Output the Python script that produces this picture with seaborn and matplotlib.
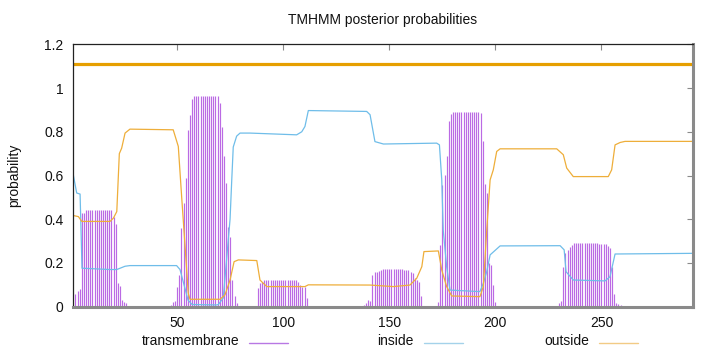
import numpy as np
import pandas as pd
import matplotlib
matplotlib.use("Agg")
import matplotlib.pyplot as plt
import seaborn as sns
from matplotlib.lines import Line2D

# ---------------- data ----------------
title = "TMHMM posterior probabilities"
seq_len = 293
x_ticks = [50, 100, 150, 200, 250]
y_ticks = [0, 0.2, 0.4, 0.6, 0.8, 1.0, 1.2]
y_tick_labels = ["0", "0.2", "0.4", "0.6", "0.8", "1", "1.2"]
legend_labels = ["transmembrane", "inside", "outside"]

# transmembrane posterior probability per residue (1..293), drawn as impulses
tm_prob = [
    0.0, 0.06, 0.073, 0.08, 0.43, 0.43, 0.443, 0.443, 0.443, 0.443,
    0.443, 0.443, 0.443, 0.443, 0.443, 0.443, 0.443, 0.443, 0.443, 0.41,
    0.38, 0.107, 0.095, 0.03, 0.02, 0.015, 0, 0, 0, 0,
    0, 0, 0, 0, 0, 0, 0, 0, 0, 0,
    0, 0, 0, 0, 0, 0, 0.01, 0.02, 0.025, 0.09,
    0.145, 0.36, 0.475, 0.59, 0.81, 0.878, 0.95, 0.962, 0.962, 0.962,
    0.962, 0.962, 0.962, 0.962, 0.962, 0.962, 0.962, 0.962, 0.962, 0.93,
    0.82, 0.69, 0.566, 0.366, 0.32, 0.122, 0.05, 0.017, 0, 0,
    0, 0, 0, 0, 0, 0, 0, 0.084, 0.107, 0.115,
    0.123, 0.123, 0.123, 0.123, 0.123, 0.123, 0.123, 0.123, 0.123, 0.123,
    0.123, 0.123, 0.123, 0.123, 0.123, 0.123, 0.115, 0.099, 0.09, 0.09,
    0.04, 0, 0, 0, 0, 0, 0, 0, 0, 0,
    0, 0, 0, 0, 0, 0, 0, 0, 0, 0.005,
    0.005, 0, 0, 0, 0, 0, 0, 0.008, 0.015, 0.03,
    0.025, 0.145, 0.16, 0.16, 0.163, 0.168, 0.171, 0.171, 0.171, 0.171,
    0.171, 0.171, 0.171, 0.171, 0.171, 0.171, 0.166, 0.166, 0.166, 0.16,
    0.153, 0.13, 0.12, 0.115, 0.05, 0.005, 0, 0, 0, 0,
    0, 0, 0.02, 0.283, 0.557, 0.603, 0.69, 0.847, 0.882, 0.89,
    0.89, 0.89, 0.89, 0.89, 0.89, 0.89, 0.89, 0.89, 0.89, 0.89,
    0.89, 0.89, 0.888, 0.756, 0.562, 0.52, 0.2, 0.19, 0.099, 0.023,
    0, 0, 0, 0, 0, 0, 0, 0, 0, 0,
    0, 0, 0, 0, 0, 0, 0, 0, 0, 0,
    0, 0, 0, 0, 0, 0, 0, 0, 0, 0.017,
    0.027, 0.183, 0.244, 0.26, 0.272, 0.283, 0.29, 0.29, 0.29, 0.29,
    0.29, 0.29, 0.29, 0.29, 0.29, 0.29, 0.29, 0.29, 0.288, 0.288,
    0.288, 0.288, 0.277, 0.27, 0.183, 0.06, 0.015, 0.012, 0.01, 0,
    0, 0, 0, 0, 0, 0, 0, 0, 0, 0,
    0, 0, 0, 0, 0, 0, 0, 0, 0, 0,
    0, 0, 0, 0, 0, 0, 0, 0, 0, 0,
    0, 0, 0,
]
residues = list(range(1, len(tm_prob) + 1))

# inside probability
inside_x = [1.0, 2.6, 4.2, 5.1, 18.3, 21.5, 25.4, 27.7, 49.7, 51.3, 53.2, 55.1,
            57.0, 68.6, 69.4, 71.7, 73.3, 74.9, 75.7, 76.4, 78.0, 79.6, 84.3,
            106.3, 108.7, 110.2, 111.8, 139.3, 140.9, 143.2, 147.2, 172.3,
            173.6, 174.7, 175.4, 177.0, 178.6, 192.7, 194.3, 195.9, 197.5,
            202.2, 230.5, 232.4, 233.3, 236.7, 251.7, 254.0, 256.4, 293.0]
inside_y = [0.603, 0.52, 0.515, 0.176, 0.17, 0.17, 0.185, 0.188, 0.188, 0.17,
            0.10, 0.03, 0.01, 0.008, 0.01, 0.04, 0.22, 0.40, 0.58, 0.73, 0.78,
            0.794, 0.794, 0.786, 0.80, 0.824, 0.897, 0.893, 0.878, 0.755,
            0.744, 0.748, 0.74, 0.58, 0.35, 0.183, 0.076, 0.069, 0.107, 0.16,
            0.237, 0.278, 0.279, 0.26, 0.16, 0.122, 0.118, 0.137, 0.241, 0.244]

# outside probability
outside_x = [1.0, 3.4, 5.0, 18.3, 19.9, 21.5, 22.7, 23.8, 25.4, 27.7, 48.1,
             50.5, 52.1, 53.7, 55.2, 56.0, 70.2, 72.5, 74.9, 76.8, 78.8, 87.5,
             89.0, 92.2, 110.2, 111.8, 140.9, 151.9, 159.7, 162.9, 165.3,
             166.3, 173.1, 174.7, 177.0, 179.4, 192.7, 194.3, 195.9, 197.5,
             199.0, 200.6, 202.2, 228.9, 232.0, 233.6, 236.7, 253.2, 254.8,
             256.4, 258.8, 261.1, 293.0]
outside_y = [0.417, 0.412, 0.39, 0.39, 0.405, 0.435, 0.70, 0.725, 0.794, 0.812,
             0.809, 0.733, 0.50, 0.275, 0.061, 0.034, 0.034, 0.054, 0.122,
             0.206, 0.214, 0.211, 0.122, 0.092, 0.092, 0.10, 0.099, 0.092,
             0.099, 0.13, 0.183, 0.252, 0.255, 0.168, 0.092, 0.049, 0.046,
             0.092, 0.35, 0.58, 0.626, 0.71, 0.722, 0.722, 0.695, 0.634, 0.595,
             0.595, 0.626, 0.74, 0.751, 0.756, 0.756]

topology_level = 1.11

# ---------------- styling ----------------
c_tm = "#bb6ae4"
c_in = "#6fbde9"
c_out = "#eeae3a"
c_top = "#e69f00"
c_border = "#8a8a8a"

sns.set_theme(style="white")
plt.rcParams["font.family"] = ["Liberation Sans", "DejaVu Sans"]
fs = 10

W, H = 720, 352
fig = plt.figure(figsize=(W / 100, H / 100), dpi=100)
L, R, T, B = 73.3, 692.7, 44.3, 306.7
ax = fig.add_axes([L / W, 1 - B / H, (R - L) / W, (B - T) / H])

ax.vlines(residues, 0, tm_prob, color=c_tm, lw=0.85)

df_in = pd.DataFrame({"x": inside_x, "y": inside_y})
df_out = pd.DataFrame({"x": outside_x, "y": outside_y})
sns.lineplot(data=df_in, x="x", y="y", ax=ax, color=c_in, lw=0.9,
             estimator=None, sort=False)
sns.lineplot(data=df_out, x="x", y="y", ax=ax, color=c_out, lw=0.9,
             estimator=None, sort=False)
ax.axhline(topology_level, color=c_top, lw=2.3)

ax.set_xlim(1, seq_len)
ax.set_ylim(0, 1.2)
ax.set_xticks(x_ticks)
ax.set_xticklabels([str(t) for t in x_ticks])
ax.set_yticks(y_ticks)
ax.set_yticklabels(y_tick_labels)
ax.set_xlabel("")
ax.set_ylabel("")
ax.tick_params(direction="in", length=4, width=0.8, color=c_border,
               top=True, right=True, labelsize=fs, pad=7, labelcolor="#111111")

for s in ["left", "top"]:
    ax.spines[s].set_color("#222222")
    ax.spines[s].set_linewidth(0.9)
for s in ["right", "bottom"]:
    ax.spines[s].set_color(c_border)
    ax.spines[s].set_linewidth(2.2)

fig.text(383 / W, 1 - 20 / H, title, ha="center", va="center", fontsize=fs,
         color="#111111")
fig.text(14 / W, 1 - 175.5 / H, "probability", rotation=90, ha="center",
         va="center", fontsize=fs, color="#111111")

# legend (text right-aligned, sample line after it)
leg_text_right = [239, 414, 589]
leg_line = [(249, 288), (424, 463), (599, 638)]
leg_colors = ["#b878e4", "#a4d2ea", "#f2cb85"]
ly = 341
for lab, xr, (x0, x1), col in zip(legend_labels, leg_text_right, leg_line, leg_colors):
    fig.text(xr / W, 1 - ly / H, lab, ha="right", va="center", fontsize=fs,
             color="#111111")
    fig.add_artist(Line2D([x0 / W, x1 / W], [1 - (ly + 1.5) / H, 1 - (ly + 1.5) / H],
                          color=col, lw=1.0, transform=fig.transFigure))

fig.savefig("out.png", dpi=100, facecolor="white")
